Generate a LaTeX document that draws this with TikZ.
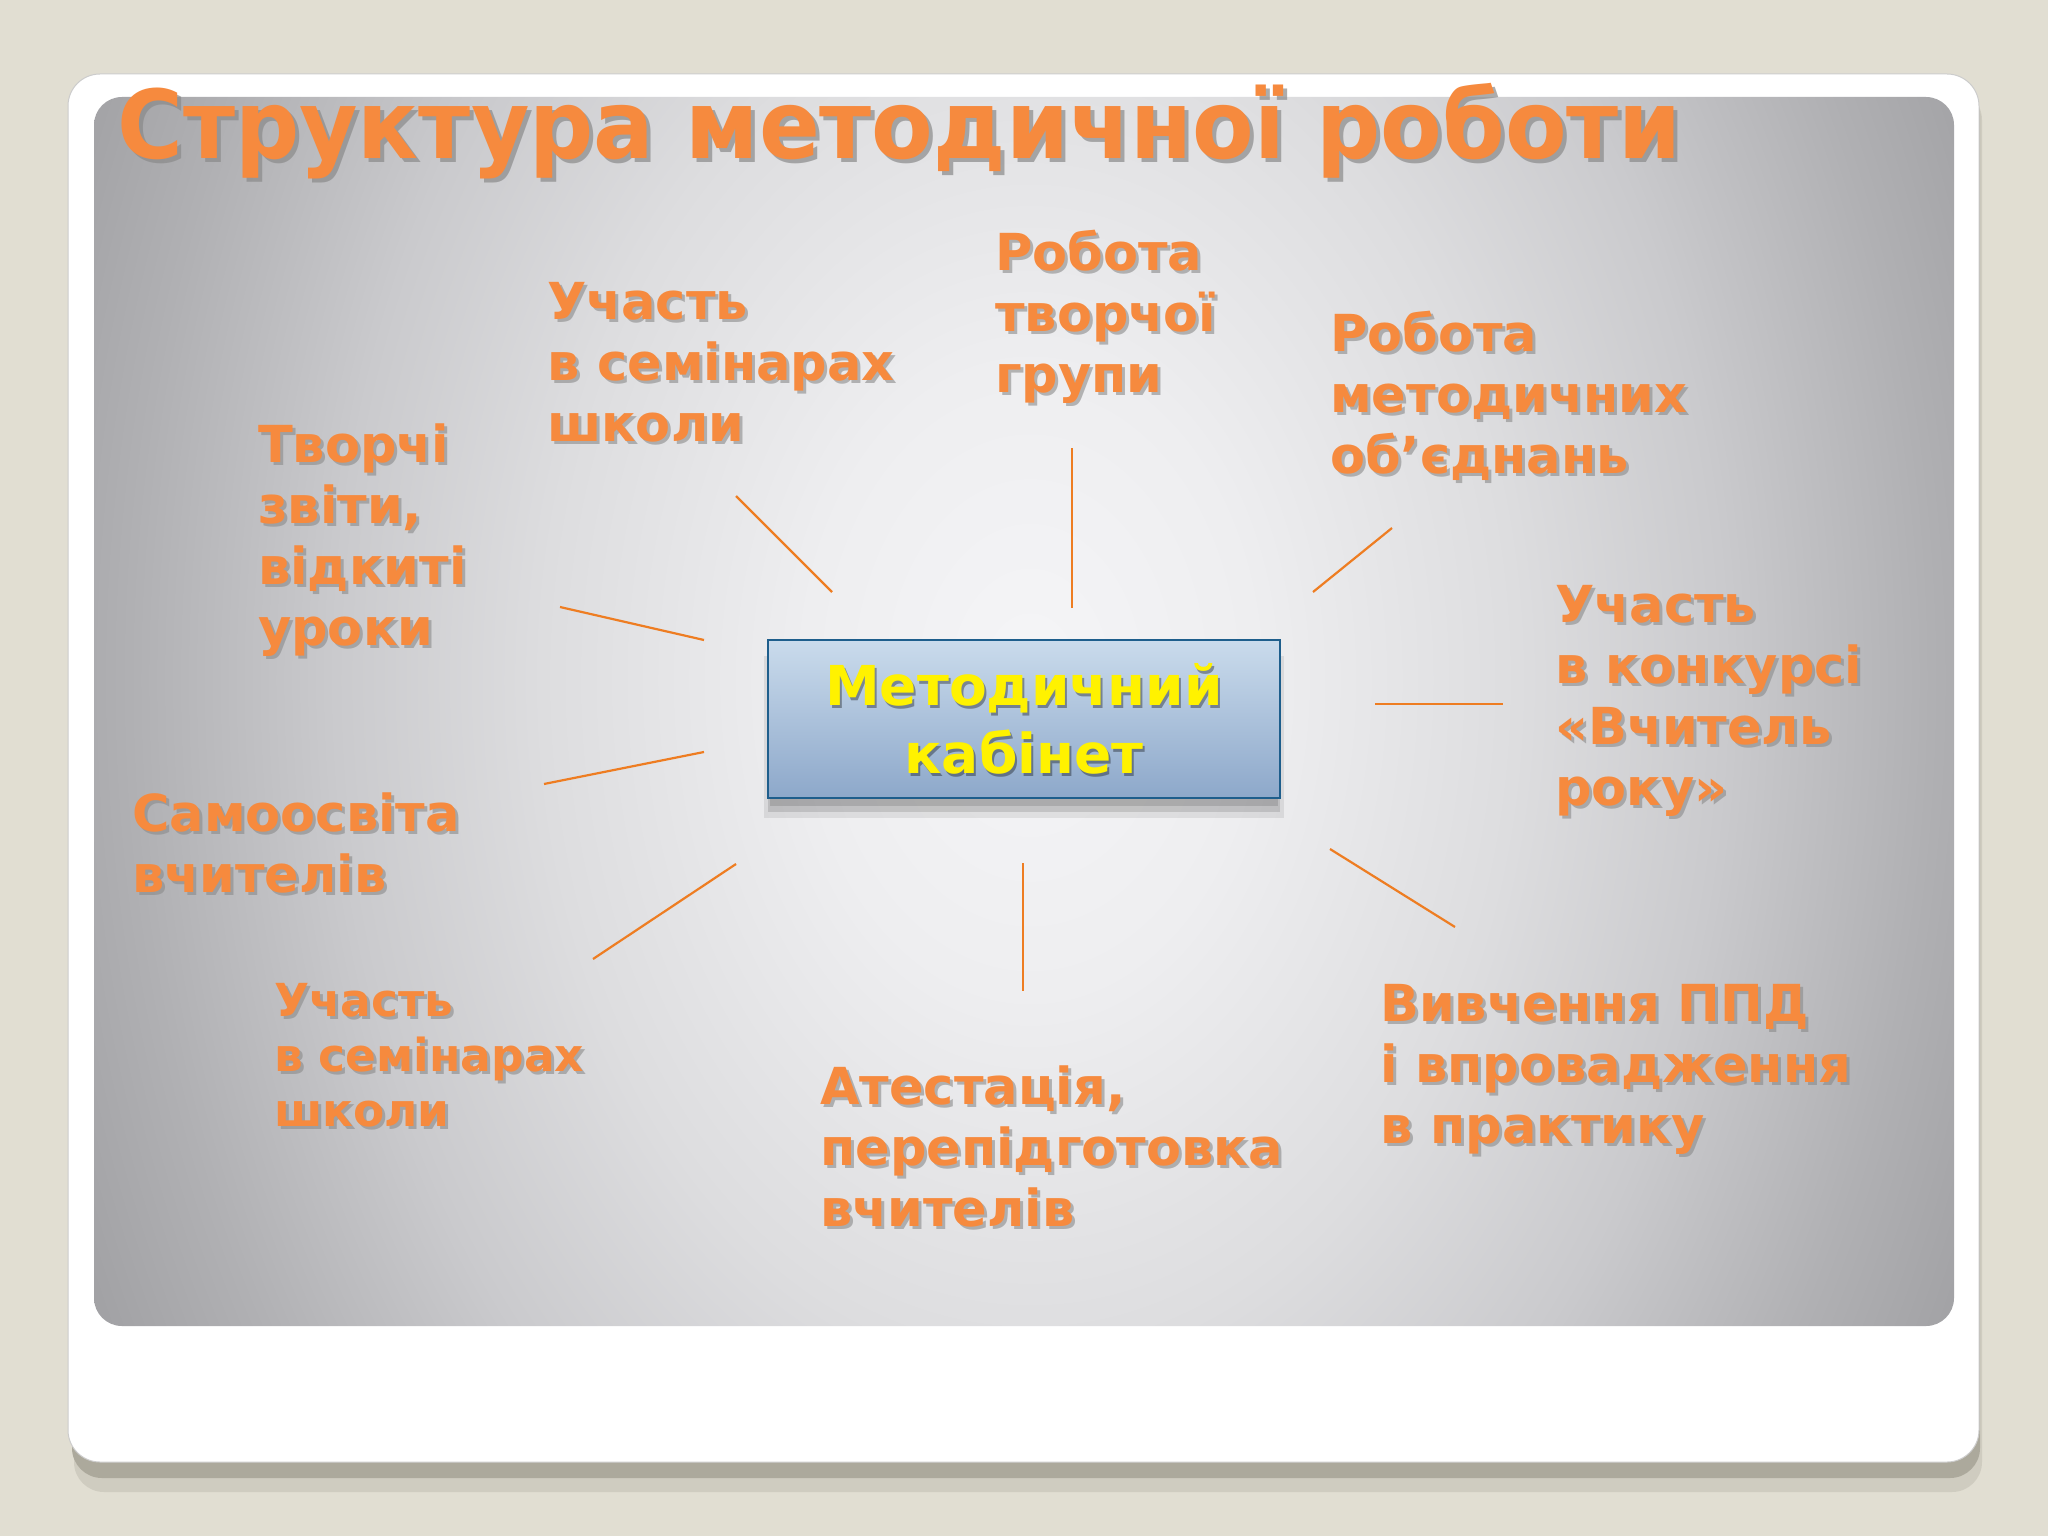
\documentclass[tikz,border=0pt]{standalone}
\usepackage{fontspec}
\setmainfont{DejaVu Sans}
\usepackage{graphicx}
\usetikzlibrary{calc}
\definecolor{bg}{HTML}{E1DED2}
\definecolor{cardshadow}{HTML}{ACA99C}
\definecolor{cardshadowlight}{HTML}{CFCCC0}
\definecolor{orangetxt}{HTML}{F68A3E}
\definecolor{spoke}{HTML}{EE7D22}
\definecolor{txtshadow}{HTML}{8A8A8A}
\definecolor{boxtop}{HTML}{CADBEC}
\definecolor{boxbot}{HTML}{8DA8CA}
\definecolor{boxline}{HTML}{1E5E8C}
\definecolor{pc0}{HTML}{F5F5F7}
\definecolor{pc1}{HTML}{EEEEF0}
\definecolor{pc2}{HTML}{DDDDDF}
\definecolor{pc3}{HTML}{CACACD}
\definecolor{pc4}{HTML}{B0B0B3}
\definecolor{pc5}{HTML}{A0A0A3}
\pgfdeclareradialshading{panelshade}{\pgfpoint{0bp}{0bp}}{color(0bp)=(pc0); color(12bp)=(pc1); color(26bp)=(pc2); color(37bp)=(pc3); color(48bp)=(pc4); color(56bp)=(pc5); color(100bp)=(pc5)}
\tikzset{
  lbl/.style={anchor=base west, inner sep=0pt, text=orangetxt,
    font=\fontsize{51}{61}\selectfont\bfseries},
  lblsmall/.style={lbl, font=\fontsize{45.5}{55}\selectfont\bfseries},
  spokeline/.style={draw=spoke, line width=2.2pt},
  shadowed/.style={text=txtshadow, text opacity=0.6, xshift=3pt, yshift=-3pt}
}
\newcommand\lbl[4]{%
  \node[#3, shadowed] (#1-sh) at #2 {#4};
  \node[#3] (#1) at #2 {#4};}
\begin{document}
\begin{tikzpicture}[x=1pt,y=-1pt]
\useasboundingbox (0,0) rectangle (2048,1536);
\fill[bg] (0,0) rectangle (2048,1536);
% card shadow
\fill[cardshadowlight, rounded corners=30pt] (74,90) rectangle (1982,1492);
\fill[cardshadow, rounded corners=30pt] (72,84) rectangle (1980,1478);
% white card
\fill[white, rounded corners=32pt] (68,74) rectangle (1979,1462);
\draw[gray!40, line width=1pt, rounded corners=32pt] (68,74) rectangle (1979,1462);
% gradient panel
\begin{scope}
  \clip[rounded corners=28pt] (94,97) rectangle (1954,1326);
  \pgftransformshift{\pgfpoint{1030pt}{-680pt}}
  \pgftransformxscale{18.7}
  \pgftransformyscale{26}
  \pgflowlevelsynccm
  \pgfuseshading{panelshade}
\end{scope}
% title
\node[anchor=base west, inner sep=0pt, text=txtshadow, text opacity=0.7,
  font=\fontsize{95}{95}\selectfont\bfseries] (title-sh) at (121,163)
  {\scalebox{0.945}[1]{Структура методичної роботи}};
\node[anchor=base west, inner sep=0pt, text=orangetxt,
  font=\fontsize{95}{95}\selectfont\bfseries] (title) at (117,159)
  {\scalebox{0.945}[1]{Структура методичної роботи}};
% central box shadow
\fill[black, opacity=0.08] (764,656) rectangle (1284,818);
\fill[black, opacity=0.12] (768,656) rectangle (1280,812);
\fill[black, opacity=0.12] (770,660) rectangle (1278,806);
\node[draw=boxline, line width=2.5pt, top color=boxtop, bottom color=boxbot,
  minimum width=512pt, minimum height=158pt, inner sep=0pt] (mk) at (1024,719) {};
\node[align=center, inner sep=0pt, text=black, text opacity=0.35,
  font=\fontsize{55}{68}\selectfont\bfseries] (mktext-sh) at ($(mk.center)+(2,3)$) {Методичний\\кабінет};
\node[align=center, inner sep=0pt, text=yellow,
  font=\fontsize{55}{68}\selectfont\bfseries] (mktext) at (mk.center) {Методичний\\кабінет};
% labels
\lbl{l1}{(547,319)}{lbl}{\vtop{\hbox{Участь}\hbox{в семінарах}\hbox{школи}}}
\lbl{l2}{(995,270)}{lbl}{\vtop{\hbox{Робота}\hbox{творчої}\hbox{групи}}}
\lbl{l3}{(1330,351)}{lbl}{\vtop{\hbox{Робота}\hbox{методичних}\hbox{об’єднань}}}
\lbl{l4}{(258,462)}{lbl}{\vtop{\hbox{Творчі}\hbox{звіти,}\hbox{відкиті}\hbox{уроки}}}
\lbl{l5}{(1555,622)}{lbl}{\vtop{\hbox{Участь}\hbox{в конкурсі}\hbox{«Вчитель}\hbox{року»}}}
\lbl{l6}{(132,831)}{lbl}{\vtop{\hbox{Самоосвіта}\hbox{вчителів}}}
\lbl{l7}{(274,1016)}{lblsmall}{\vtop{\hbox{Участь}\hbox{в семінарах}\hbox{школи}}}
\lbl{l8}{(820,1104)}{lbl}{\vtop{\hbox{Атестація,}\hbox{перепідготовка}\hbox{вчителів}}}
\lbl{l9}{(1380,1021)}{lbl}{\vtop{\hbox{Вивчення ППД}\hbox{і впровадження}\hbox{в практику}}}
% spoke end points
\coordinate (s1a) at (736,496);  \coordinate (s1b) at (832,592);
\coordinate (s2a) at (1072,448); \coordinate (s2b) at (1072,608);
\coordinate (s3a) at (1392,528); \coordinate (s3b) at (1313,592);
\coordinate (s4a) at (560,607);  \coordinate (s4b) at (704,640);
\coordinate (s5a) at (1375,704); \coordinate (s5b) at (1503,704);
\coordinate (s6a) at (544,784);  \coordinate (s6b) at (704,752);
\coordinate (s7a) at (736,864);  \coordinate (s7b) at (593,959);
\coordinate (s8a) at (1023,863); \coordinate (s8b) at (1023,991);
\coordinate (s9a) at (1330,849); \coordinate (s9b) at (1455,927);
\foreach \i in {1,...,9} {\draw[spokeline] (s\i a) -- (s\i b);}
\end{tikzpicture}
\end{document}
